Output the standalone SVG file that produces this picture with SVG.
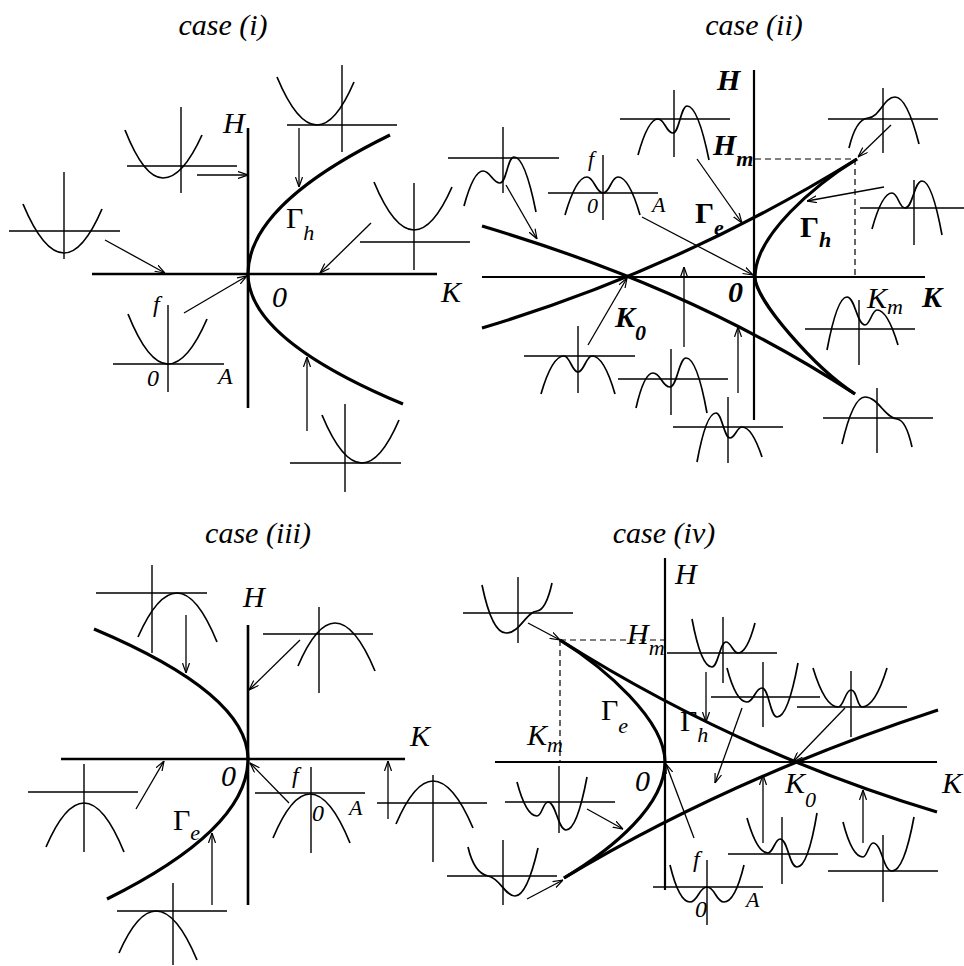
<svg xmlns="http://www.w3.org/2000/svg" width="964" height="966" viewBox="0 0 964 966" font-family="'Liberation Serif', 'Times New Roman', serif">
<defs>
<style>
.t{fill:none;stroke:#000;stroke-width:1.4}
.c{fill:none;stroke:#000;stroke-width:1.7}
.k{fill:none;stroke:#000;stroke-width:3.2}
.ax{fill:none;stroke:#000;stroke-width:2.6}
.ax2{fill:none;stroke:#000;stroke-width:2.2}
.d{fill:none;stroke:#000;stroke-width:1.2;stroke-dasharray:6,4}
.a{fill:none;stroke:#000;stroke-width:1.3;marker-end:url(#ah)}
text{font-family:"Liberation Serif","Times New Roman",serif;font-style:italic;fill:#000}
.ttl{font-size:30px;text-anchor:middle}
.L{font-size:30px}
.S{font-size:22px}
.s{font-size:24px}
.g{font-style:normal;font-size:30px}
.b{font-weight:bold}
</style>
<marker id="ah" viewBox="0 0 10 8" refX="10" refY="4" markerWidth="10" markerHeight="8" markerUnits="userSpaceOnUse" orient="auto"><path d="M0,0.5 L10,4 L0,7.5" fill="none" stroke="#000" stroke-width="1.2"/></marker>
</defs>
<rect width="964" height="966" fill="#fff"/>

<!-- ============ CASE (i) ============ -->
<g id="case1">
<text class="ttl" x="223" y="35">case (i)</text>
<g id="c1-axes">
<path class="ax" d="M248,128 V408 M92,274 H437"/>
<path class="k" d="M390,135 Q248,204.5 248,274 Q248,339 403,404"/>
</g>
<g id="c1-labels">
<text class="L" x="223" y="133">H</text>
<text class="L" x="286" y="228"><tspan class="g">Γ</tspan><tspan class="S" dy="12">h</tspan></text>
<text class="L" x="272" y="307">0</text>
<text class="L" x="441" y="302">K</text>
</g>
<g id="c1-g1"><path class="t" d="M127,166 H237 M181,107 V193"/><path class="c" d="M125,130 Q144,178 163,178 Q182.5,178 202,135"/></g>
<g id="c1-g2"><path class="t" d="M9,231 H120 M64,172 V259"/><path class="c" d="M23,204 Q43.5,253 64,253 Q83,253 102,209"/></g>
<g id="c1-g3"><path class="t" d="M287,125 H397 M342,65 V152"/><path class="c" d="M277,77 Q297,125 317,125 Q335.5,125 354,82"/></g>
<g id="c1-g4"><path class="t" d="M360,242 H470 M414,183 V270"/><path class="c" d="M374,182 Q394,230 414,230 Q433,230 452,187"/></g>
<g id="c1-g5"><path class="t" d="M113,364 H224 M168,305 V392"/><path class="c" d="M128,314 Q148,364 168,364 Q187.5,364 207,319"/>
<text class="s" x="153" y="312">f</text><text class="s" x="147" y="386">0</text><text class="s" x="218" y="384">A</text></g>
<g id="c1-g6"><path class="t" d="M290,463 H401 M345,404 V492"/><path class="c" d="M322,415 Q342,463 362,463 Q380.5,463 399,420"/></g>
<g id="c1-arrows">
<path class="a" d="M197,175 L248,175"/>
<path class="a" d="M105,240 L165,273"/>
<path class="a" d="M299,128 L299,187"/>
<path class="a" d="M371,223 L320,273"/>
<path class="a" d="M184,313 L247,276"/>
<path class="a" d="M307,431 L307,357"/>
</g>
</g>

<!-- ============ CASE (ii) ============ -->
<g id="case2">
<text class="ttl" x="754" y="35">case (ii)</text>
<g id="c2-axes">
<path class="ax2" d="M754,70 V420 M482,277 H925"/>
<path class="d" d="M755,159 H855 V275"/>
<path class="k" d="M482,226 C606,263 731,313 855,394"/>
<path class="k" d="M482,328 C607,290.5 732,236.5 857,159"/>
<path class="k" d="M857,159 C815,185 755,235 755,277 C755,300 815,368 855,394"/>
</g>
<g id="c2-labels">
<text class="L b" x="717" y="90">H</text>
<text class="L b" x="713" y="155">H<tspan class="S" dy="11">m</tspan></text>
<text class="L b" x="695" y="223"><tspan class="g">Γ</tspan><tspan class="S" dy="12">e</tspan></text>
<text class="L b" x="800" y="237"><tspan class="g">Γ</tspan><tspan class="S" dy="10">h</tspan></text>
<text class="L b" x="728" y="302">0</text>
<text class="L b" x="615" y="327">K<tspan class="S" dy="13">0</tspan></text>
<text class="L" x="867" y="308">K<tspan class="S" dy="6">m</tspan></text>
<text class="L b" x="922" y="307">K</text>
</g>
<g id="c2-gA"><path class="t" d="M448,158 H559 M503,127 V193"/><path class="c" d="M464,206 Q473.5,171 483,171 C490.5,171 492.5,183 500,183 C506.5,183 507.5,157 514,157 Q525,157 536,212"/></g>
<g id="c2-gB"><path class="t" d="M548,193 H658 M603,155 V220"/><path class="c" d="M565,215 Q576,177 587,177 C594,177 596,193 603,193 C610,193 611,177 618,177 Q629,177 640,215"/>
<text class="S" x="588" y="166">f</text><text class="S" x="587" y="213">0</text><text class="S" x="652" y="212">A</text></g>
<g id="c2-gC"><path class="t" d="M620,119 H730 M674,90 V157"/><path class="c" d="M638,155 Q648,119 658,119 C665,119 666,133 673,133 C679,133 681,106 687,106 Q698,106 709,160"/></g>
<g id="c2-gD"><path class="t" d="M828,119 H938 M883,88 V153"/><path class="c" d="M849,148 Q856,119 868,118 C880,117 884,97 895,97 Q907,97 919,144"/></g>
<g id="c2-gE"><path class="t" d="M860,208 H964 M914,180 V245"/><path class="c" d="M872,229 Q882,193 892,193 C898,193 899,208 905,208 C913,208 914,181 922,181 Q932,181 942,235"/></g>
<g id="c2-gF"><path class="t" d="M805,329 H915 M859,300 V365"/><path class="c" d="M827,350 Q837,297 847,297 C855,297 857,325 865,325 C870,325 872,310 877,310 Q887.5,310 898,345"/></g>
<g id="c2-gG"><path class="t" d="M524,356 H635 M578,326 V393"/><path class="c" d="M541,394 Q552,356 564,356 C570,356 572,372 578,372 C584,372 586,356 592,356 Q604,356 615,394"/></g>
<g id="c2-gH"><path class="t" d="M618,379 H728 M671,349 V415"/><path class="c" d="M636,408 Q644,373 653,373 C661,373 662,387 670,387 C677,387 679,358 686,358 Q697,358 707,413"/></g>
<g id="c2-gI"><path class="t" d="M673,427 H783 M728,397 V463"/><path class="c" d="M697,462 Q706,413 716,413 C722,413 724,438 730,438 C735,438 737,427 742,427 Q752,427 762,457"/></g>
<g id="c2-gJ"><path class="t" d="M823,418 H933 M877,388 V453"/><path class="c" d="M842,444 Q853,397 865,397 C878,397 885,418 897,419 Q906,420 912,447"/></g>
<g id="c2-arrows">
<path class="a" d="M506,185 L537,239"/>
<path class="a" d="M642,217 L753,275"/>
<path class="a" d="M697,159 L742,223"/>
<path class="a" d="M891,125 L858,157"/>
<path class="a" d="M884,187 L807,201"/>
<path class="a" d="M588,345 L627,278"/>
<path class="a" d="M684,347 L684,267"/>
<path class="a" d="M738,393 L738,327"/>
</g>
</g>

<!-- ============ CASE (iii) ============ -->
<g id="case3">
<text class="ttl" x="258" y="543">case (iii)</text>
<g id="c3-axes">
<path class="ax" d="M248,625 V905 M61,759 H405"/>
<path class="k" d="M94,629 Q248,694 248,759 Q248,829 107,899"/>
</g>
<g id="c3-labels">
<text class="L" x="243" y="607">H</text>
<text class="L" x="410" y="746">K</text>
<text class="L" x="221" y="786">0</text>
<text class="L" x="173" y="830"><tspan class="g">Γ</tspan><tspan class="S" dy="10">e</tspan></text>
</g>
<g id="c3-g1"><path class="t" d="M96,593 H207 M152,565 V653"/><path class="c" d="M138,637 Q157.5,593 177,593 Q197,593 217,642"/></g>
<g id="c3-g2"><path class="t" d="M263,634 H373 M319,607 V693"/><path class="c" d="M298,666 Q316.5,623 335,623 Q355,623 375,671"/></g>
<g id="c3-g3"><path class="t" d="M28,792 H138 M84,764 V852"/><path class="c" d="M46,847 Q65,803 84,803 Q104,803 124,852"/></g>
<g id="c3-g4"><path class="t" d="M117,911 H227 M173,883 V965"/><path class="c" d="M119,953 Q137.5,911 156,911 Q176.5,911 197,960"/></g>
<g id="c3-g5"><path class="t" d="M255,793 H365 M311,767 V853"/><path class="c" d="M273,838 Q291.5,794 310,794 Q330,794 350,843"/>
<text class="s" x="292" y="783">f</text><text class="s" x="312" y="821">0</text><text class="S" x="349" y="815">A</text></g>
<g id="c3-g6"><path class="t" d="M377,803 H487 M433,775 V862"/><path class="c" d="M396,824 Q414.5,781 433,781 Q453,781 473,828"/></g>
<g id="c3-arrows">
<path class="a" d="M186,615 L186,673"/>
<path class="a" d="M300,640 L249,690"/>
<path class="a" d="M136,809 L164,761"/>
<path class="a" d="M212,905 L212,833"/>
<path class="a" d="M289,803 L250,763"/>
<path class="a" d="M388,819 L388,761"/>
</g>
</g>

<!-- ============ CASE (iv) ============ -->
<g id="case4">
<text class="ttl" x="664" y="543">case (iv)</text>
<g id="c4-axes">
<path class="ax2" d="M665,558 V890 M495,762 H937"/>
<path class="d" d="M560,640 H665 M560,640 V762"/>
<path class="k" d="M560,640 C685,719 812,774.5 937,812"/>
<path class="k" d="M564,878 C689,803 813,751 938,710"/>
<path class="k" d="M560,640 C605,668 665,720 665,762 C665,805 614,848 564,878"/>
</g>
<g id="c4-labels">
<text class="L" x="675" y="584">H</text>
<text class="L" x="627" y="644">H<tspan class="S" dy="11">m</tspan></text>
<text class="L" x="527" y="745">K<tspan class="S" dy="7">m</tspan></text>
<text class="L" x="601" y="720"><tspan class="g">Γ</tspan><tspan class="S" dy="13">e</tspan></text>
<text class="L" x="680" y="731"><tspan class="g">Γ</tspan><tspan class="S" dy="11">h</tspan></text>
<text class="L" x="635" y="791">0</text>
<text class="L" x="785" y="793">K<tspan class="S" dy="14">0</tspan></text>
<text class="L" x="942" y="793">K</text>
</g>
<g id="c4-g1"><path class="t" d="M463,613 H573 M518,577 V643"/><path class="c" d="M482,585 Q492,633 506,633 C520,633 526,612 537,611 Q546,610 552,583"/></g>
<g id="c4-g2"><path class="t" d="M667,653 H777 M723,617 V683"/><path class="c" d="M692,619 Q701,667 712,667 C718,667 720,642 726,642 C731,642 733,653 738,653 Q747,653 755,623"/></g>
<g id="c4-g3"><path class="t" d="M711,697 H820 M763,662 V727"/><path class="c" d="M727,668 Q736,702 747,702 C754,702 755,688 762,688 C769,688 770,717 777,717 Q788,717 798,663"/></g>
<g id="c4-g4"><path class="t" d="M797,707 H907 M851,671 V737"/><path class="c" d="M813,668 Q825,707 838,707 C844,707 845,690 851,690 C857,690 857,707 862,707 Q875,707 887,668"/></g>
<g id="c4-g5"><path class="t" d="M447,876 H557 M503,840 V905"/><path class="c" d="M468,847 Q474,873 488,876 C500,878 505,896 515,896 Q527,896 538,848"/></g>
<g id="c4-g6"><path class="t" d="M505,802 H615 M559,766 V833"/><path class="c" d="M517,782 Q526,816 537,816 C542,816 543,802 548,802 C556,802 558,830 566,830 Q577,830 587,777"/></g>
<g id="c4-g7"><path class="t" d="M653,887 H763 M707,860 V925"/><path class="c" d="M670,865 Q679,902 690,902 C698,902 699,887 707,887 C715,887 716,902 724,902 Q735,902 744,865"/>
<text class="s" x="693" y="867">f</text><text class="s" x="695" y="917">0</text><text class="S" x="746" y="907">A</text></g>
<g id="c4-g8"><path class="t" d="M728,854 H838 M782,817 V884"/><path class="c" d="M747,818 Q757,853 768,853 C773,853 775,839 780,839 C788,839 789,867 797,867 Q808,867 817,813"/></g>
<g id="c4-g9"><path class="t" d="M828,871 H938 M883,835 V902"/><path class="c" d="M843,822 Q852,857 863,857 C867,857 869,843 873,843 C882,843 883,871 892,871 Q904,871 914,817"/></g>
<g id="c4-arrows">
<path class="a" d="M528,623 L560,640"/>
<path class="a" d="M706,672 L706,722"/>
<path class="a" d="M742,708 L715,783"/>
<path class="a" d="M845,708 L793,762"/>
<path class="a" d="M527,899 L563,880"/>
<path class="a" d="M587,809 L623,829"/>
<path class="a" d="M694,838 L666,764"/>
<path class="a" d="M763,843 L763,775"/>
<path class="a" d="M863,843 L863,790"/>
</g>
</g>
</svg>
